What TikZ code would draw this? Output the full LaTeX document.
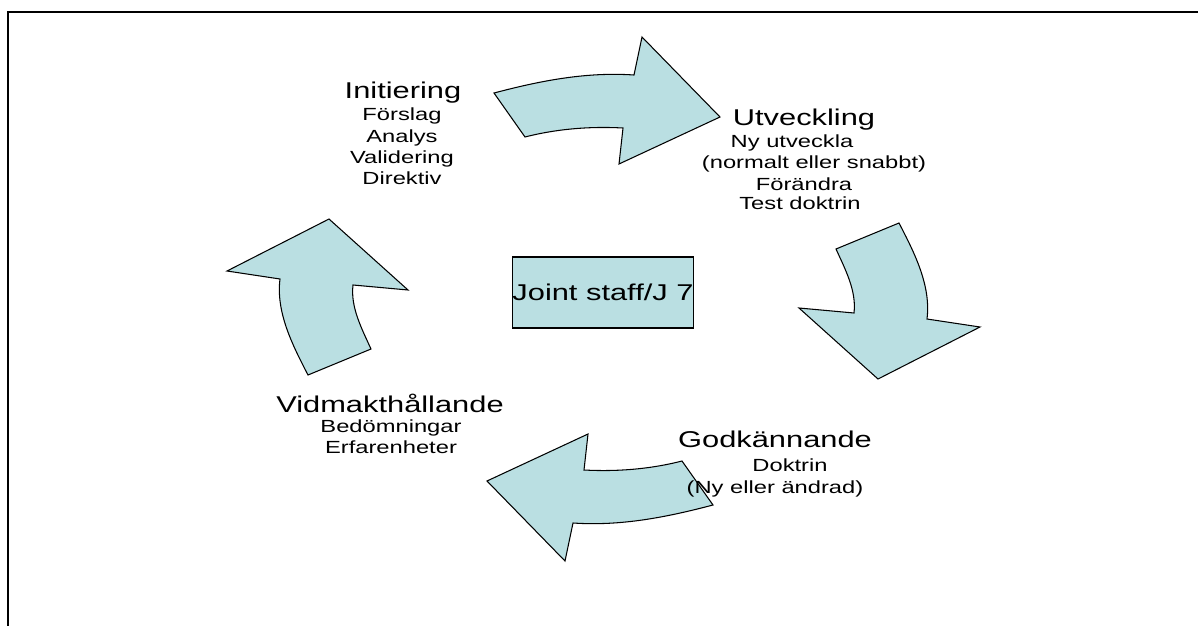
\documentclass[tikz,border=0pt]{standalone}
\usepackage{fontspec}
\setmainfont{Liberation Sans}
\newfontfamily\widefont{Liberation Sans}[FakeStretch=1.35]
\definecolor{arrowfill}{RGB}{186,223,226}
\begin{document}
\begin{tikzpicture}[x=0.02cm,y=-0.02cm,
  arrowshape/.style={fill=arrowfill,draw=black,line width=0.6pt,line join=miter},
  headtext/.style={anchor=base,inner sep=0pt,font=\widefont\fontsize{13}{15}\selectfont},
  subtext/.style={anchor=base,inner sep=0pt,font=\widefont\fontsize{10}{12}\selectfont},
  centerbox/.style={draw=black,fill=arrowfill,line width=0.6pt,minimum width=3.6cm,minimum height=1.42cm,inner sep=0pt,font=\widefont\fontsize{13}{15}\selectfont}]
\useasboundingbox (0,0) rectangle (1198,626);
% frame
\coordinate (fa) at (8,626);
\coordinate (fb) at (8,12);
\coordinate (fc) at (1198,12);
\draw[line width=1.2pt] (fa) -- (fb) -- (fc);
% arrows
\newcommand{\toparrowpath}{(494,93) .. controls (539.5,81) and (585.6,71.7) .. (634,75) -- (642,37) -- (720,117) -- (619,164) -- (623,128) .. controls (590,126.2) and (556.5,128.9) .. (525,137) -- cycle}
\newcommand{\rightarrowpath}{(836,249) .. controls (845.6,270.1) and (856.6,291) .. (854,313) -- (799,308) -- (878,379) -- (980,327) -- (927,319) .. controls (931.1,286.1) and (915.1,254) .. (899,223) -- cycle}
\draw[arrowshape] \toparrowpath;
\draw[arrowshape] \rightarrowpath;
\begin{scope}[rotate around={180:(603.5,299)}]
\draw[arrowshape] \toparrowpath;
\draw[arrowshape] \rightarrowpath;
\end{scope}
% centre box
\node[centerbox] (box) at (603,292.5) {Joint staff/J 7};
% Initiering
\node[headtext] (i0) at (403,98) {Initiering};
\node[subtext] (i1) at (402,120) {Förslag};
\node[subtext] (i2) at (402,142) {Analys};
\node[subtext] (i3) at (402,163) {Validering};
\node[subtext] (i4) at (402,184) {Direktiv};
% Utveckling
\node[headtext] (u0) at (804,125) {Utveckling};
\node[subtext] (u1) at (792,147) {Ny utveckla};
\node[subtext] (u2) at (814,168) {(normalt eller snabbt)};
\node[subtext] (u3) at (804,190) {Förändra};
\node[subtext] (u4) at (800,209) {Test doktrin};
% Godkannande
\node[headtext] (g0) at (775,447) {Godkännande};
\node[subtext] (g1) at (790,471) {Doktrin};
\node[subtext] (g2) at (775,493) {(Ny eller ändrad)};
% Vidmakthallande
\node[headtext] (v0) at (390,412) {Vidmakthållande};
\node[subtext] (v1) at (391,432) {Bedömningar};
\node[subtext] (v2) at (391,453) {Erfarenheter};
\end{tikzpicture}
\end{document}
